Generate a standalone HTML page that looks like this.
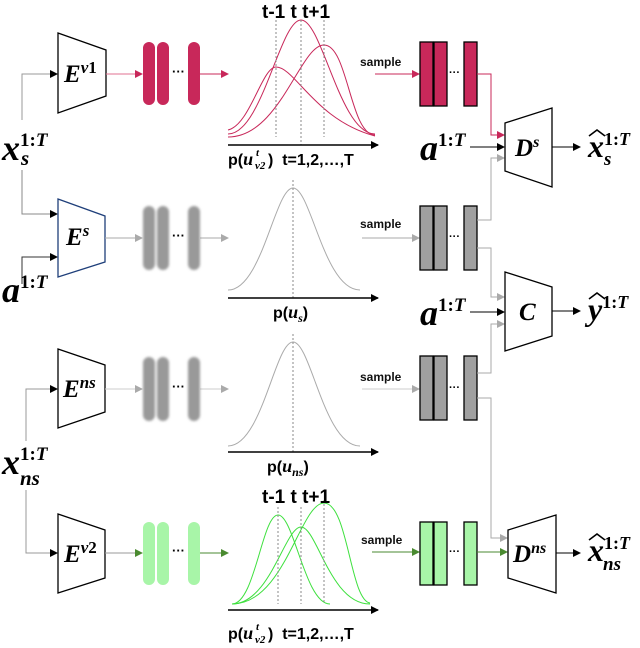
<!DOCTYPE html>
<html><head><meta charset="utf-8"><style>
body{margin:0;background:#fff}
svg{display:block}
.m{font-family:"Liberation Serif",serif;font-style:italic;font-weight:bold}
.s{font-family:"Liberation Sans",sans-serif;font-weight:bold}
</style></head><body>
<svg width="640" height="648" viewBox="0 0 640 648" xmlns="http://www.w3.org/2000/svg">
<defs>
<marker id="ak" markerWidth="8" markerHeight="8" refX="7" refY="4" orient="auto" markerUnits="userSpaceOnUse"><path d="M0,0 L8,4 L0,8z" fill="#000"/></marker>
<marker id="ag" markerWidth="8" markerHeight="8" refX="7" refY="4" orient="auto" markerUnits="userSpaceOnUse"><path d="M0,0 L8,4 L0,8z" fill="#aaa"/></marker>
<marker id="ap" markerWidth="8" markerHeight="8" refX="7" refY="4" orient="auto" markerUnits="userSpaceOnUse"><path d="M0,0 L8,4 L0,8z" fill="#c8285a"/></marker>
<marker id="agr" markerWidth="8" markerHeight="8" refX="7" refY="4" orient="auto" markerUnits="userSpaceOnUse"><path d="M0,0 L8,4 L0,8z" fill="#4a8a30"/></marker>
<filter id="bl"><feGaussianBlur stdDeviation="1.2"/></filter>
</defs>

<g fill="none" stroke="#888" stroke-width="1">
<path d="M22,120 V74 H57" stroke="#999" marker-end="url(#ak)"/>
<path d="M22,170 V214 H57" marker-end="url(#ak)"/>
<path d="M22,284 V257 H57" stroke="#333" marker-end="url(#ak)"/>
<path d="M26,441 V389 H57" stroke="#999" marker-end="url(#ak)"/>
<path d="M26,490 V553 H57" stroke="#999" marker-end="url(#ak)"/>
</g>

<g fill="#fff" stroke="#000" stroke-width="1.3">
<path d="M58,33 L106,50 L106,96 L58,113z"/>
<path d="M58,199 L105,216 L105,262 L58,277z" stroke="#1f3f7a"/>
<path d="M58,349 L105,365 L105,412 L58,428z"/>
<path d="M58,514 L105,530 L105,578 L58,593z"/>
</g>
<text class="m" x="64" y="82" font-size="25">E<tspan dy="-9" font-size="17">v</tspan><tspan font-size="17" font-style="normal">1</tspan></text>
<text class="m" x="66" y="245" font-size="25">E<tspan dy="-9" font-size="17">s</tspan></text>
<text class="m" x="63" y="397" font-size="25">E<tspan dy="-9" font-size="17">ns</tspan></text>
<text class="m" x="64" y="562" font-size="25">E<tspan dy="-9" font-size="17">v</tspan><tspan font-size="17" font-style="normal">2</tspan></text>

<text class="m" x="2" y="160" font-size="36">x<tspan dy="-14" font-size="19" font-style="normal">1:</tspan><tspan font-size="19">T</tspan></text>
<text class="m" x="21" y="165" font-size="21">s</text>
<text class="m" x="2" y="302" font-size="36">a<tspan dy="-14" font-size="19" font-style="normal">1:</tspan><tspan font-size="19">T</tspan></text>
<text class="m" x="2" y="474" font-size="36">x<tspan dy="-14" font-size="19" font-style="normal">1:</tspan><tspan font-size="19">T</tspan></text>
<text class="m" x="20" y="485" font-size="21">ns</text>

<path d="M106,74 H142" stroke="#e07090" fill="none" marker-end="url(#ap)"/>
<path d="M200,74 H228" stroke="#c8285a" fill="none" marker-end="url(#ap)"/>
<path d="M105,238 H142" stroke="#aaa" fill="none" marker-end="url(#ag)"/>
<path d="M200,238 H228" stroke="#aaa" fill="none" marker-end="url(#ag)"/>
<path d="M105,389 H142" stroke="#ccc" fill="none" marker-end="url(#ag)"/>
<path d="M200,389 H228" stroke="#ccc" fill="none" marker-end="url(#ag)"/>
<path d="M105,553 H142" stroke="#999" fill="none" marker-end="url(#agr)"/>
<path d="M200,553 H228" stroke="#4a8a30" fill="none" marker-end="url(#agr)"/>

<g fill="#c8285a"><rect x="143" y="42" width="12" height="63" rx="6"/><rect x="157" y="42" width="12" height="63" rx="6"/><rect x="188" y="42" width="12" height="63" rx="6"/></g>
<g fill="#999" filter="url(#bl)"><rect x="143" y="206" width="12" height="64" rx="6"/><rect x="157" y="206" width="12" height="64" rx="6"/><rect x="188" y="206" width="12" height="64" rx="6"/>
<rect x="143" y="357" width="12" height="64" rx="6"/><rect x="157" y="357" width="12" height="64" rx="6"/><rect x="188" y="357" width="12" height="64" rx="6"/></g>
<g fill="#a8f5a8"><rect x="143" y="522" width="12" height="63" rx="6"/><rect x="157" y="522" width="12" height="63" rx="6"/><rect x="188" y="522" width="12" height="63" rx="6"/></g>
<g font-family="Liberation Sans" font-weight="bold" font-size="13"><text x="172" y="76">···</text><text x="172" y="240">···</text><text x="172" y="391">···</text><text x="172" y="555">···</text></g>

<g fill="none" stroke-width="1">
<g stroke="#c8285a">
<path d="M228,130 C250,125 262,67 276,67 C295,67 315,120 375,136"/>
<path d="M228,134 C262,134 280,20 301,20 C322,20 340,134 375,134"/>
<path d="M228,137 C280,137 300,45 324,45 C348,45 350,135 375,135"/>
</g>
<g stroke="#888" stroke-dasharray="2,2"><path d="M276,20 V137"/><path d="M301,20 V145"/><path d="M324,20 V137"/></g>
<path d="M228,145 H378" stroke="#000" stroke-width="1.6" marker-end="url(#ak)"/>
<path d="M228,290 C262,290 275,188 293,188 C311,188 324,290 360,290" stroke="#aaa"/>
<path d="M293,180 V298" stroke="#888" stroke-dasharray="2,2"/>
<path d="M228,298 H378" stroke="#000" stroke-width="1.6" marker-end="url(#ak)"/>
<path d="M228,446 C262,446 275,342 293,342 C311,342 324,446 360,446" stroke="#aaa"/>
<path d="M293,334 V452" stroke="#888" stroke-dasharray="2,2"/>
<path d="M228,452 H378" stroke="#000" stroke-width="1.6" marker-end="url(#ak)"/>
<g stroke="#3ee03e">
<path d="M232,604 C255,604 262,515 278,515 C294,515 305,604 330,604"/>
<path d="M232,604 C270,604 285,527 301,527 C317,527 330,604 370,604"/>
<path d="M232,604 C285,604 300,503 324,503 C348,503 350,600 370,603"/>
</g>
<g stroke="#888" stroke-dasharray="2,2"><path d="M278,507 V604"/><path d="M301,507 V604"/><path d="M324,500 V604"/></g>
<path d="M228,610 H378" stroke="#000" stroke-width="1.6" marker-end="url(#ak)"/>
</g>
<g class="s" font-size="19">
<text x="262" y="18">t-1 t t+1</text>
<text x="262" y="503">t-1 t t+1</text>
</g>
<g class="s" font-size="16">
<text x="228" y="165">p(<tspan class="m" font-size="18">u</tspan></text>
<text x="256" y="156" class="m" font-size="11">t</text>
<text x="255" y="169" class="m" font-size="11">v2</text>
<text x="268" y="165">) &#160;t=1,2,…,T</text>
<text x="228" y="639">p(<tspan class="m" font-size="18">u</tspan></text>
<text x="256" y="630" class="m" font-size="11">t</text>
<text x="255" y="643" class="m" font-size="11">v2</text>
<text x="268" y="639">) &#160;t=1,2,…,T</text>
<text x="273" y="318">p(<tspan class="m" font-size="18">u</tspan><tspan font-size="12" dy="4" class="m">s</tspan><tspan dy="-4">)</tspan></text>
<text x="267" y="472">p(<tspan class="m" font-size="18">u</tspan><tspan font-size="12" dy="4" class="m">ns</tspan><tspan dy="-4">)</tspan></text>
</g>

<g class="s" font-size="12" fill="#111">
<text x="360" y="66">sample</text><text x="360" y="228">sample</text><text x="360" y="381">sample</text><text x="361" y="544">sample</text>
</g>
<path d="M375,74 H419" stroke="#c8285a" fill="none" marker-end="url(#ap)"/>
<path d="M362,238 H419" stroke="#aaa" fill="none" marker-end="url(#ag)"/>
<path d="M362,389 H419" stroke="#ccc" fill="none" marker-end="url(#ag)"/>
<path d="M372,552 H419" stroke="#4a8a30" fill="none" marker-end="url(#agr)"/>

<g stroke="#000" stroke-width="1.3">
<g fill="#c8285a"><rect x="420" y="42" width="13" height="64"/><rect x="434" y="42" width="13" height="64"/><rect x="464" y="42" width="13" height="64"/></g>
<g fill="#a0a0a0"><rect x="420" y="206" width="13" height="64"/><rect x="434" y="206" width="13" height="64"/><rect x="464" y="206" width="13" height="64"/>
<rect x="420" y="356" width="13" height="64"/><rect x="434" y="356" width="13" height="64"/><rect x="464" y="356" width="13" height="64"/></g>
<g fill="#a8f5a8"><rect x="420" y="522" width="13" height="63"/><rect x="434" y="522" width="13" height="63"/><rect x="464" y="522" width="13" height="63"/></g>
</g>
<g font-family="Liberation Sans" font-weight="bold" font-size="11"><text x="449" y="76">···</text><text x="449" y="240">···</text><text x="449" y="391">···</text><text x="449" y="555">···</text></g>

<g fill="none" stroke-width="1">
<path d="M477,74 H491 V135 H504" stroke="#c8285a" marker-end="url(#ap)"/>
<path d="M477,220 H491 V158 H504" stroke="#aaa" marker-end="url(#ag)"/>
<path d="M477,248 H491 V297 H504" stroke="#aaa" marker-end="url(#ag)"/>
<path d="M477,373 H491 V324 H504" stroke="#aaa" marker-end="url(#ag)"/>
<path d="M477,398 H491 V538 H507" stroke="#aaa" marker-end="url(#ag)"/>
<path d="M477,552 H507" stroke="#4a8a30" marker-end="url(#agr)"/>
<path d="M470,147 H504" stroke="#000" marker-end="url(#ak)"/>
<path d="M470,312 H504" stroke="#000" marker-end="url(#ak)"/>
<path d="M552,147 H580" stroke="#000" marker-end="url(#ak)"/>
<path d="M552,311 H580" stroke="#000" marker-end="url(#ak)"/>
<path d="M556,553 H580" stroke="#000" marker-end="url(#ak)"/>
</g>

<g fill="#fff" stroke="#000" stroke-width="1.3">
<path d="M505,123 L552,108 L552,187 L505,171z"/>
<path d="M505,272 L552,287 L552,336 L505,351z"/>
<path d="M508,530 L556,515 L556,593 L508,578z"/>
</g>
<text class="m" x="515" y="156" font-size="25">D<tspan dy="-9" font-size="16">s</tspan></text>
<text class="m" x="519" y="320" font-size="25">C</text>
<text class="m" x="513" y="562" font-size="25">D<tspan dy="-9" font-size="16">ns</tspan></text>

<text class="m" x="420" y="160" font-size="36">a<tspan dy="-14" font-size="19" font-style="normal">1:</tspan><tspan font-size="19">T</tspan></text>
<text class="m" x="420" y="325" font-size="36">a<tspan dy="-14" font-size="19" font-style="normal">1:</tspan><tspan font-size="19">T</tspan></text>

<text class="m" x="588" y="157" font-size="32">x<tspan dy="-12" font-size="18" font-style="normal">1:</tspan><tspan font-size="18">T</tspan></text>
<text class="m" x="604" y="165" font-size="19">s</text>
<path d="M589,136 L597,130 L605,136" fill="none" stroke="#000" stroke-width="1.6"/>
<text class="m" x="588" y="320" font-size="32">y<tspan dy="-12" font-size="18" font-style="normal">1:</tspan><tspan font-size="18">T</tspan></text>
<path d="M589,299 L597,293 L605,299" fill="none" stroke="#000" stroke-width="1.6"/>
<text class="m" x="588" y="561" font-size="32">x<tspan dy="-12" font-size="18" font-style="normal">1:</tspan><tspan font-size="18">T</tspan></text>
<text class="m" x="603" y="570" font-size="19">ns</text>
<path d="M589,540 L597,534 L605,540" fill="none" stroke="#000" stroke-width="1.6"/>
</svg>
</body></html>
